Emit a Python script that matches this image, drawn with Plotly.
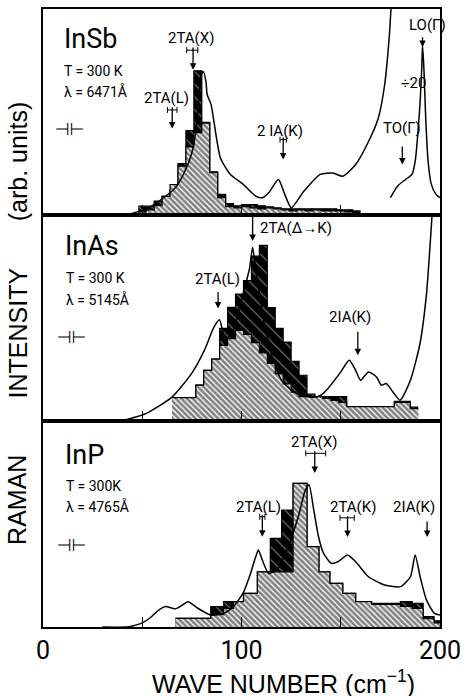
import plotly.graph_objects as go
from plotly.subplots import make_subplots

# ---------------- data ----------------
# InSb
INSB_EDGES = [48, 52, 56, 60, 64, 68, 72, 76, 80, 84, 88, 92, 96, 100, 104, 108, 112, 116,
              120, 124, 128, 132, 136, 140, 144, 148, 152, 156, 160]
INSB_BLACK = [0.043, 0.043, 0.068, 0.09, 0.12, 0.25, 0.41, 0.70, 0.45, 0.21, 0.10, 0.055,
              0.045, 0.05, 0.05, 0.045, 0.04, 0.035, 0.03, 0.03, 0.03, 0.03, 0.03, 0.03,
              0.03, 0.025, 0.025, 0.02]
INSB_HATCH = [0.015, 0.025, 0.045, 0.09, 0.148, 0.237, 0.33, 0.40, 0.446, 0.205, 0.084, 0.04,
              0.035, 0.04, 0.035, 0.03, 0.035, 0.03, 0.025, 0.02, 0.025, 0.02, 0.025, 0.02,
              0.02, 0.02, 0.015, 0.01]
INSB_X = [42, 52, 58.5, 66.7, 71.5, 74.8, 77.2, 78.8, 79.7, 80.8, 82.1, 82.7, 84.7, 86.1,
          89.4, 94.3, 100.7, 107.1, 110.5, 113.7, 118.6, 121.8, 125.1, 131.5, 139.7, 146.1,
          151, 157.5, 164, 168.9, 172.1, 174.5, 175.3, 176]
INSB_Y = [0.0, 0.03, 0.068, 0.132, 0.213, 0.295, 0.422, 0.585, 0.681, 0.696, 0.647, 0.585,
          0.536, 0.454, 0.277, 0.198, 0.150, 0.092, 0.084, 0.108, 0.172, 0.10, 0.035, 0.116,
          0.197, 0.204, 0.188, 0.245, 0.357, 0.47, 0.631, 0.873, 1.0, 1.12]
INSB_LO_X = [175.0, 178.6, 182.6, 185.9, 187.5, 188.8, 190, 190.8, 191.2, 191.9, 192.8, 194,
             195.6, 198, 200]
INSB_LO_Y = [0.084, 0.14, 0.172, 0.197, 0.261, 0.39, 0.551, 0.71, 0.825, 0.71, 0.47, 0.261,
             0.15, 0.10, 0.084]

# InAs
INAS_EDGES = [65, 69, 73, 77, 81, 85, 89, 93, 97, 101, 105, 109, 113, 117, 121, 125, 129,
              133, 137, 141, 145, 149, 153, 157, 161, 165, 169, 173, 177, 181, 185, 189]
INAS_BLACK = [0.113, 0.113, 0.113, 0.174, 0.246, 0.30, 0.45, 0.552, 0.616, 0.681, 0.80,
              0.853, 0.55, 0.45, 0.383, 0.29, 0.222, 0.13, 0.118, 0.118, 0.118, 0.118, 0.07,
              0.07, 0.07, 0.07, 0.07, 0.07, 0.095, 0.095, 0.068]
INAS_HATCH = [0.113, 0.113, 0.113, 0.174, 0.246, 0.30, 0.367, 0.40, 0.44, 0.42, 0.38, 0.33,
              0.28, 0.23, 0.18, 0.14, 0.118, 0.118, 0.118, 0.11, 0.10, 0.09, 0.07, 0.07,
              0.07, 0.07, 0.07, 0.07, 0.09, 0.09, 0.06]
INAS_X = [35, 39.1, 52.1, 65.1, 74.8, 81.3, 86.1, 88.9, 91.8, 95, 99, 102.5, 104, 105.6,
          107.2, 109, 112, 116, 120, 125, 130, 136, 140, 142.9, 149.4, 154.3, 157.5, 160,
          164, 168, 170.5, 172.9, 176.2, 179.9, 185.1, 189.9, 193.2, 195.6, 197]
INAS_Y = [0.0, 0.0, 0.037, 0.117, 0.23, 0.343, 0.456, 0.492, 0.40, 0.42, 0.55, 0.68, 0.738,
          0.842, 0.738, 0.62, 0.45, 0.30, 0.20, 0.15, 0.125, 0.115, 0.125, 0.15, 0.23, 0.295,
          0.246, 0.198, 0.238, 0.214, 0.174, 0.182, 0.142, 0.101, 0.198, 0.375, 0.617, 0.94,
          1.15]

# InP
INP_EDGES = [66.7, 84.5, 91, 96, 101, 108, 114.5, 120.2, 126, 133, 139, 144.5, 151, 157.5,
             165.5, 173, 180, 186, 191.5, 197, 200]
INP_BLACK = [0.042, 0.099, 0.123, 0.123, 0.163, 0.268, 0.43, 0.568, 0.697, 0.39, 0.268,
             0.212, 0.163, 0.123, 0.115, 0.115, 0.123, 0.115, 0.05, 0.03]
INP_HATCH = [0.042, 0.06, 0.09, 0.123, 0.163, 0.268, 0.268, 0.268, 0.697, 0.39, 0.268,
             0.212, 0.163, 0.123, 0.11, 0.11, 0.10, 0.09, 0.04, 0.02]
INP_X = [30, 42, 45, 50, 54, 58, 61.8, 66.7, 70, 73.1, 78, 84.5, 91, 95.9, 100.7, 104,
         107.2, 108.5, 110.5, 113.7, 118, 124, 129, 132, 134, 136.4, 138.8, 141.3, 145.3,
         148.6, 153.4, 157.5, 164, 172.1, 180.2, 185.1, 187.5, 190, 193.2, 197.2, 200]
INP_Y = [0.0, 0.0, 0.005, 0.02, 0.045, 0.08, 0.099, 0.088, 0.105, 0.123, 0.091, 0.058,
         0.066, 0.099, 0.163, 0.244, 0.342, 0.374, 0.325, 0.26, 0.28, 0.40, 0.55, 0.66,
         0.69, 0.568, 0.438, 0.358, 0.309, 0.317, 0.35, 0.317, 0.244, 0.204, 0.196, 0.244,
         0.35, 0.244, 0.131, 0.066, 0.058]

X_TICKS = [0, 50, 100, 150, 200]
X_TICK_TEXT = ["0", "", "100", "", "200"]
Y_TITLE_WORDS = ["RAMAN", "INTENSITY", "(arb. units)"]

# ---------------- figure ----------------
FN = "Roboto, Liberation Sans, sans-serif"
FR = "Liberation Sans, Arial, sans-serif"
FS = "DejaVu Sans, sans-serif"

fig = make_subplots(rows=3, cols=1, shared_xaxes=True, vertical_spacing=0)


def add_hist(edges, heights, row, black):
    y = list(heights) + [heights[-1]]
    if black:
        fp = dict(shape="\\", fgcolor="white", bgcolor="black", size=9, solidity=0.12)
        fc = "black"
    else:
        fp = dict(shape="\\", fgcolor="black", bgcolor="white", size=4, solidity=0.65)
        fc = "white"
    fig.add_trace(go.Scatter(x=edges, y=y, mode="lines", line_shape="hv",
                             line=dict(color="black", width=1.2), fill="tozeroy",
                             fillcolor=fc, fillpattern=fp, hoverinfo="skip",
                             showlegend=False), row=row, col=1)


def add_curve(xs, ys, row):
    fig.add_trace(go.Scatter(x=xs, y=ys, mode="lines",
                             line=dict(color="black", width=1.5, shape="spline",
                                       smoothing=0.6),
                             hoverinfo="skip", showlegend=False), row=row, col=1)


add_hist(INSB_EDGES, INSB_BLACK, 1, True)
add_hist(INSB_EDGES, INSB_HATCH, 1, False)
add_curve(INSB_X, INSB_Y, 1)
add_curve(INSB_LO_X, INSB_LO_Y, 1)

add_hist(INAS_EDGES, INAS_BLACK, 2, True)
add_hist(INAS_EDGES, INAS_HATCH, 2, False)
add_curve(INAS_X, INAS_Y, 2)

add_hist(INP_EDGES, INP_BLACK, 3, True)
add_hist(INP_EDGES, INP_HATCH, 3, False)
add_curve(INP_X, INP_Y, 3)

# error-bar markers above arrows
ERR = [  # (row, x, y, half-width)
    (1, 75.2, 0.80, 2.8), (1, 65.1, 0.51, 2.4), (1, 121.0, 0.366, 1.6),
    (3, 137.4, 0.843, 5.0), (3, 110.5, 0.535, 1.3), (3, 153.2, 0.53, 3.6),
]
for r, x, y, h in ERR:
    fig.add_trace(go.Scatter(x=[x], y=[y], mode="markers",
                             marker=dict(size=1, color="black"),
                             error_x=dict(type="data", array=[h], color="black",
                                          thickness=1, width=3),
                             hoverinfo="skip", showlegend=False), row=r, col=1)

ann = []


def txt(row, x, y, s, size=15, anchor="center", font=FN):
    ax = "" if row == 1 else str(row)
    ann.append(dict(xref="x" + ax, yref="y" + ax, x=x, y=y, text=s, showarrow=False,
                    xanchor=anchor, yanchor="middle",
                    font=dict(family=font, size=size, color="black")))


def arrow(row, x, y0, y1):
    ax = "" if row == 1 else str(row)
    ann.append(dict(xref="x" + ax, yref="y" + ax, axref="x" + ax, ayref="y" + ax,
                    x=x, y=y1, ax=x, ay=y0, text="", showarrow=True, arrowhead=2,
                    arrowsize=1, arrowwidth=1.3, arrowcolor="black"))


# panel 1 InSb
txt(1, 9.5, 0.855, "InSb", 27, "left")
txt(1, 9.7, 0.70, "T = 300 K", 14, "left")
txt(1, 9.7, 0.60, "λ = 6471Å", 14, "left")
txt(1, 13.5, 0.418, "⊣⊢", 17, font=FS)
txt(1, 74.8, 0.86, "2TA(X)", 15)
arrow(1, 75.6, 0.82, 0.705)
txt(1, 62.0, 0.567, "2TA(L)", 15)
arrow(1, 65.1, 0.53, 0.42)
txt(1, 119.4, 0.406, "2 IA(K)", 15)
arrow(1, 121.0, 0.385, 0.27)
txt(1, 181.0, 0.422, "TO(Γ)", 15)
arrow(1, 181.0, 0.34, 0.245)
txt(1, 193.5, 0.92, "LO(Γ)", 15)
arrow(1, 191.2, 0.87, 0.815)
txt(1, 186.5, 0.64, "÷20", 15)

# panel 2 InAs
txt(2, 10.2, 0.85, "InAs", 27, "left")
txt(2, 10.5, 0.693, "T = 300 K", 14, "left")
txt(2, 10.5, 0.589, "λ = 5145Å", 14, "left")
txt(2, 14.5, 0.407, "⊣⊢", 17, font=FS)
txt(2, 108.3, 0.935, "2TA(Δ→K)", 15, "left")
arrow(2, 105.6, 1.0, 0.874)
txt(2, 88.1, 0.689, "2TA(L)", 15)
arrow(2, 88.2, 0.633, 0.546)
txt(2, 154.6, 0.504, "2IA(K)", 15)
arrow(2, 158.6, 0.44, 0.319)

# panel 3 InP
txt(3, 10.2, 0.835, "InP", 27, "left")
txt(3, 10.5, 0.684, "T = 300K", 14, "left")
txt(3, 10.5, 0.587, "λ = 4765Å", 14, "left")
txt(3, 14.5, 0.398, "⊣⊢", 17, font=FS)
txt(3, 136.7, 0.90, "2TA(X)", 15)
arrow(3, 136.9, 0.86, 0.748)
txt(3, 108.5, 0.584, "2TA(L)", 15)
arrow(3, 110.5, 0.55, 0.438)
txt(3, 156.2, 0.584, "2TA(K)", 15)
arrow(3, 153.4, 0.545, 0.437)
txt(3, 187.0, 0.584, "2IA(K)", 15)
arrow(3, 193.5, 0.52, 0.437)

# y axis title (three words, spaced as in the original)
for word, yp in zip(Y_TITLE_WORDS, [0.205, 0.476, 0.753]):
    ann.append(dict(xref="paper", yref="paper", x=-0.064, y=yp, text=word,
                    textangle=-90, showarrow=False, xanchor="center", yanchor="middle",
                    font=dict(family=FR, size=25, color="black")))
ann.append(dict(xref="paper", yref="paper", x=0.605, y=-0.0895,
                text="WAVE NUMBER (cm<sup>−1</sup>)", showarrow=False,
                xanchor="center", yanchor="middle",
                font=dict(family=FR, size=25, color="black")))

fig.update_layout(annotations=ann)

for r in (1, 2, 3):
    fig.update_xaxes(range=[0, 200], showline=True, mirror=True, linewidth=2,
                     linecolor="black", ticks="inside", ticklen=10, tickwidth=1,
                     tickcolor="black", tickvals=X_TICKS, ticktext=X_TICK_TEXT,
                     showgrid=False, zeroline=False, showticklabels=(r == 3),
                     ticklabeloverflow="allow",
                     tickfont=dict(family=FN, size=25, color="black"),
                     row=r, col=1)
    fig.update_yaxes(range=[0, 1], showline=True, mirror=True, linewidth=2,
                     linecolor="black", ticks="", showticklabels=False,
                     showgrid=False, zeroline=False, row=r, col=1)

fig.update_layout(width=468, height=696, margin=dict(l=43, r=14, t=7, b=69),
                  plot_bgcolor="white", paper_bgcolor="white", showlegend=False)

fig.write_html("out.html")
